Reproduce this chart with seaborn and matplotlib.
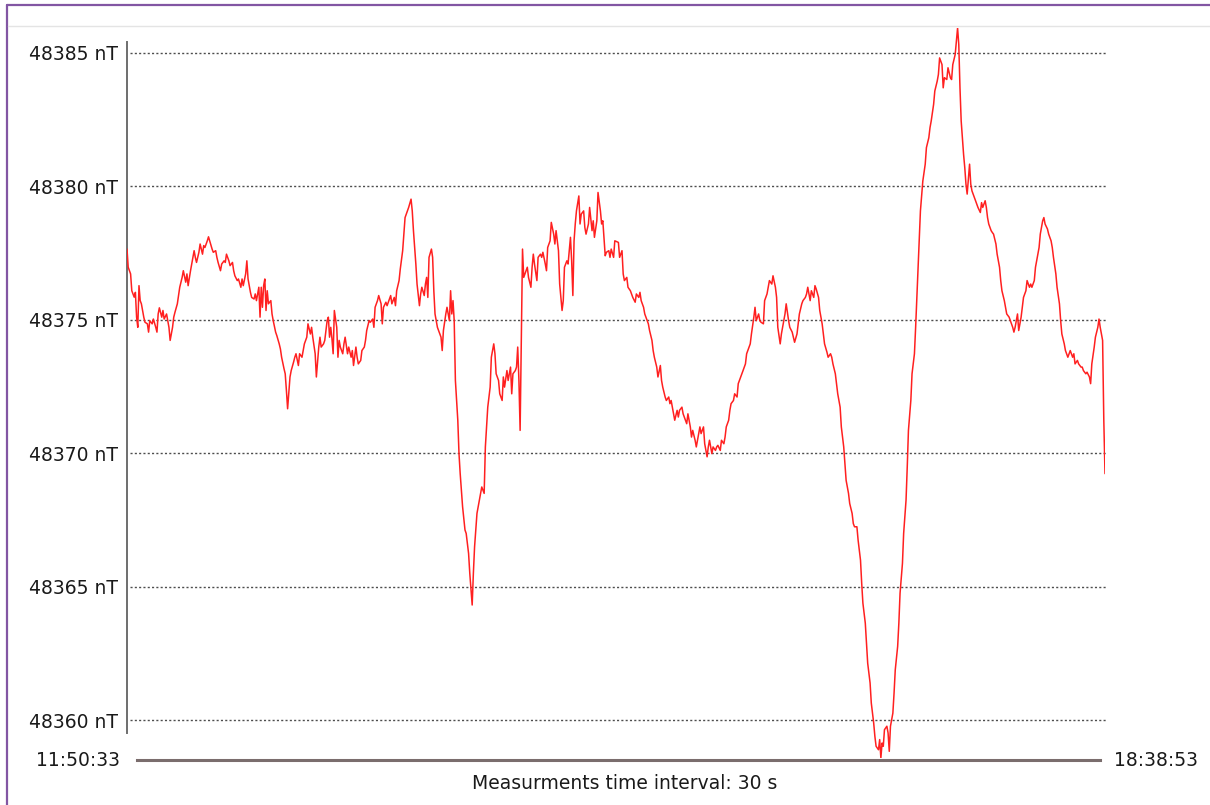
import matplotlib
matplotlib.use("Agg")
import matplotlib.pyplot as plt
from matplotlib.lines import Line2D
import seaborn as sns
import pandas as pd

# Magnetometer record, one sample every 30 s (sample number -> total field in nT)
sample = [
    0, 1, 3, 4, 6, 7, 8, 9, 10, 11, 12, 14, 15, 17, 18, 19, 21, 22, 24, 25,
    26, 27, 29, 30, 31, 33, 34, 35, 36, 38, 39, 40, 42, 43, 44, 46, 47, 49, 50, 51,
    53, 54, 56, 57, 58, 60, 61, 63, 64, 65, 67, 68, 69, 71, 72, 74, 75, 76, 78, 79,
    81, 82, 83, 85, 86, 88, 89, 90, 92, 93, 95, 96, 97, 99, 100, 101, 103, 104, 106, 107,
    108, 110, 111, 112, 113, 114, 115, 116, 117, 118, 120, 121, 122, 124, 125, 127, 128, 129, 131, 132,
    133, 134, 136, 137, 139, 140, 141, 143, 144, 146, 147, 148, 150, 151, 153, 154, 155, 157, 158, 160,
    161, 162, 164, 165, 167, 168, 169, 170, 171, 172, 173, 175, 176, 177, 178, 180, 181, 182, 184, 185,
    187, 188, 189, 191, 192, 193, 195, 196, 198, 199, 200, 202, 203, 205, 206, 207, 209, 210, 212, 213,
    214, 216, 217, 219, 220, 221, 223, 224, 225, 227, 228, 230, 231, 232, 234, 235, 237, 238, 239, 241,
    242, 244, 245, 246, 248, 249, 250, 251, 252, 254, 255, 256, 257, 259, 260, 262, 263, 264, 266, 267,
    269, 270, 271, 272, 273, 274, 276, 277, 278, 280, 282, 283, 285, 286, 288, 289, 290, 292, 294, 296,
    298, 299, 301, 303, 304, 306, 307, 308, 310, 311, 313, 314, 315, 317, 318, 320, 321, 322, 324, 325,
    326, 327, 328, 330, 331, 333, 334, 335, 337, 338, 339, 340, 342, 343, 345, 346, 347, 349, 350, 351,
    353, 354, 356, 357, 358, 360, 361, 363, 364, 365, 367, 368, 370, 371, 372, 373, 374, 375, 377, 378,
    379, 381, 382, 383, 385, 386, 388, 389, 390, 392, 393, 395, 396, 397, 399, 400, 402, 403, 404, 406,
    407, 410, 411, 413, 414, 415, 417, 418, 420, 421, 422, 424, 425, 427, 428, 429, 431, 432, 434, 435,
    436, 438, 439, 440, 442, 443, 445, 446, 447, 449, 450, 452, 453, 454, 456, 457, 459, 460, 461, 463,
    464, 466, 467, 468, 470, 471, 472, 474, 475, 477, 478, 479, 481, 482, 484, 485, 486, 488, 489, 491,
    492, 493, 495, 496, 498, 499, 500, 502, 503, 504, 506, 507, 509, 510, 511, 513, 514, 516, 517, 518,
    520, 521, 523, 524, 525, 527, 528, 529, 531, 532, 534, 535, 536, 538, 539, 541, 542, 543, 545, 546,
    548, 549, 550, 552, 553, 555, 556, 557, 559, 560, 561, 563, 564, 566, 567, 568, 570, 571, 573, 574,
    575, 577, 578, 580, 581, 582, 584, 585, 587, 588, 589, 591, 592, 593, 595, 596, 598, 599, 600, 602,
    603, 605, 606, 607, 609, 610, 612, 613, 614, 616, 617, 618, 620, 621, 623, 624, 625, 627, 628, 629,
    630, 631, 632, 634, 635, 636, 637, 639, 640, 641, 643, 644, 645, 647, 648, 650, 651, 652, 654, 655,
    657, 658, 662, 664, 666, 667, 669, 670, 671, 673, 674, 676, 677, 678, 680, 681, 682, 684, 685, 687,
    688, 689, 691, 692, 693, 694, 695, 696, 697, 698, 699, 700, 701, 703, 704, 705, 706, 708, 709, 710,
    712, 713, 714, 716, 717, 718, 719, 721, 722, 723, 725, 726, 728, 729, 730, 732, 733, 734, 736, 737,
    739, 740, 741, 743, 744, 746, 747, 748, 750, 751, 753, 754, 755, 757, 758, 760, 761, 762, 764, 765,
    766, 768, 769, 771, 772, 773, 775, 776, 778, 779, 780, 782, 783, 785, 786, 787, 789, 790, 791, 793,
    794, 796, 797, 798, 800, 801, 803, 804, 805, 807, 808, 810, 811, 812, 813, 814, 815, 816,
]

field_nT = [
    48377.64, 48376.96, 48376.71, 48376.08, 48375.84, 48376.02, 48375.09, 48374.71, 48376.27, 48375.71,
    48375.59, 48375.09, 48374.90, 48374.84, 48374.53, 48374.96, 48374.84, 48375.02, 48374.71, 48374.53,
    48375.21, 48375.44, 48375.09, 48375.34, 48375.02, 48375.21, 48374.96, 48374.71, 48374.22, 48374.71,
    48375.09, 48375.27, 48375.59, 48375.90, 48376.21, 48376.58, 48376.83, 48376.40, 48376.71, 48376.27,
    48376.83, 48377.08, 48377.58, 48377.33, 48377.14, 48377.52, 48377.83, 48377.45, 48377.77, 48377.70,
    48377.95, 48378.10, 48377.95, 48377.64, 48377.52, 48377.58, 48377.33, 48377.14, 48376.83, 48377.08,
    48377.20, 48377.14, 48377.45, 48377.20, 48377.02, 48377.14, 48376.83, 48376.64, 48376.46, 48376.52,
    48376.21, 48376.52, 48376.27, 48376.71, 48377.20, 48376.52, 48376.02, 48375.83, 48375.77, 48375.96,
    48375.71, 48376.21, 48375.09, 48376.21, 48375.46, 48376.27, 48376.52, 48375.34, 48376.08, 48375.59,
    48375.71, 48375.21, 48374.96, 48374.53, 48374.40, 48374.09, 48373.90, 48373.59, 48373.16, 48372.97,
    48372.35, 48371.66, 48372.85, 48373.09, 48373.41, 48373.59, 48373.72, 48373.28, 48373.72, 48373.59,
    48373.84, 48374.09, 48374.34, 48374.84, 48374.46, 48374.71, 48374.34, 48373.72, 48372.85, 48373.97,
    48374.34, 48373.97, 48374.09, 48374.22, 48374.96, 48375.09, 48374.34, 48374.71, 48374.28, 48373.72,
    48375.34, 48374.71, 48373.59, 48374.22, 48373.97, 48373.72, 48374.09, 48374.34, 48373.72, 48373.97,
    48373.59, 48373.84, 48373.28, 48373.97, 48373.59, 48373.34, 48373.47, 48373.84, 48373.97, 48374.22,
    48374.59, 48374.96, 48374.90, 48375.02, 48374.71, 48375.46, 48375.71, 48375.90, 48375.59, 48374.84,
    48375.46, 48375.65, 48375.52, 48375.77, 48375.90, 48375.59, 48375.83, 48375.52, 48376.08, 48376.46,
    48376.89, 48377.58, 48378.20, 48378.82, 48379.07, 48379.20, 48379.51, 48379.07, 48378.33, 48377.08,
    48376.33, 48375.52, 48375.96, 48376.21, 48375.90, 48376.33, 48376.58, 48375.83, 48377.33, 48377.64,
    48377.33, 48376.08, 48375.21, 48374.71, 48374.59, 48374.34, 48373.84, 48374.59, 48375.21, 48375.46,
    48374.96, 48376.08, 48375.21, 48375.71, 48374.96, 48372.72, 48371.23, 48369.98, 48369.23, 48367.99,
    48367.12, 48366.99, 48366.24, 48365.50, 48364.31, 48365.50, 48366.49, 48367.74, 48368.24, 48368.73,
    48368.49, 48370.23, 48371.72, 48372.47, 48373.59, 48374.09, 48373.72, 48372.97, 48372.72, 48372.22,
    48371.97, 48372.85, 48372.47, 48373.09, 48372.72, 48373.22, 48372.22, 48372.97, 48373.09, 48373.22,
    48373.97, 48372.72, 48370.85, 48377.64, 48376.58, 48376.83, 48376.96, 48376.58, 48376.21, 48376.96,
    48377.45, 48377.08, 48376.46, 48377.33, 48377.45, 48377.33, 48377.52, 48377.08, 48376.83, 48377.70,
    48377.95, 48378.64, 48378.20, 48377.83, 48378.33, 48377.58, 48376.33, 48375.34, 48375.71, 48376.96,
    48377.20, 48377.08, 48378.08, 48377.20, 48375.90, 48377.95, 48378.58, 48379.07, 48379.63, 48378.58,
    48378.95, 48379.07, 48378.45, 48378.20, 48378.58, 48379.20, 48378.33, 48378.70, 48378.08, 48378.70,
    48379.76, 48379.07, 48378.58, 48378.70, 48377.39, 48377.52, 48377.58, 48377.33, 48377.64, 48377.33,
    48377.95, 48377.89, 48377.33, 48377.58, 48376.71, 48376.46, 48376.58, 48376.21, 48376.08, 48375.96,
    48375.83, 48375.65, 48375.96, 48375.83, 48376.02, 48375.71, 48375.46, 48375.21, 48374.96, 48374.84,
    48374.59, 48374.22, 48373.84, 48373.59, 48373.22, 48372.85, 48373.28, 48372.72, 48372.47, 48372.10,
    48371.97, 48372.10, 48371.85, 48371.97, 48371.47, 48371.23, 48371.60, 48371.35, 48371.60, 48371.72,
    48371.47, 48371.23, 48371.10, 48371.47, 48370.98, 48370.60, 48370.85, 48370.48, 48370.23, 48370.73,
    48370.98, 48370.73, 48370.98, 48370.35, 48369.86, 48370.23, 48370.48, 48369.98, 48370.23, 48370.10,
    48370.23, 48370.29, 48370.10, 48370.48, 48370.35, 48370.60, 48370.98, 48371.23, 48371.60, 48371.85,
    48371.97, 48372.22, 48372.10, 48372.60, 48372.72, 48372.97, 48373.09, 48373.34, 48373.72, 48373.84,
    48374.09, 48374.46, 48375.09, 48375.46, 48374.96, 48375.21, 48374.96, 48374.90, 48374.84, 48375.71,
    48375.96, 48376.21, 48376.46, 48376.33, 48376.64, 48376.21, 48375.83, 48374.71, 48374.09, 48374.46,
    48374.96, 48375.21, 48375.59, 48374.96, 48374.71, 48374.53, 48374.34, 48374.15, 48374.46, 48374.84,
    48375.21, 48375.59, 48375.71, 48375.83, 48375.96, 48376.21, 48375.71, 48376.08, 48375.83, 48376.27,
    48376.15, 48375.83, 48375.34, 48374.84, 48374.46, 48374.09, 48373.78, 48373.59, 48373.72, 48373.59,
    48373.34, 48372.97, 48372.60, 48372.22, 48371.72, 48370.98, 48370.23, 48369.61, 48368.98, 48368.49,
    48368.11, 48367.74, 48367.36, 48367.24, 48367.24, 48366.74, 48365.99, 48365.12, 48364.38, 48363.63,
    48362.88, 48362.13, 48361.39, 48360.64, 48359.89, 48359.39, 48359.02, 48358.89, 48359.27, 48358.58,
    48359.14, 48359.02, 48359.64, 48359.77, 48359.52, 48358.83, 48359.77, 48360.26, 48361.01, 48361.88,
    48362.76, 48363.63, 48364.75, 48365.87, 48366.99, 48368.24, 48369.48, 48370.85, 48371.97, 48372.97,
    48373.72, 48374.71, 48379.07, 48380.19, 48380.82, 48381.44, 48381.81, 48382.19, 48382.44, 48383.06,
    48383.56, 48383.93, 48384.18, 48384.80, 48384.55, 48383.68, 48384.06, 48383.99, 48384.43, 48384.06,
    48383.99, 48384.55, 48384.93, 48385.43, 48385.92, 48385.30, 48383.68, 48382.44, 48381.81, 48381.19,
    48380.69, 48380.07, 48379.70, 48380.82, 48380.07, 48379.82, 48379.70, 48379.45, 48379.32, 48379.20,
    48379.01, 48379.38, 48379.20, 48379.45, 48379.20, 48378.82, 48378.58, 48378.33, 48378.26, 48378.20,
    48377.83, 48377.45, 48376.96, 48376.46, 48376.08, 48375.71, 48375.46, 48375.21, 48375.09, 48374.96,
    48374.71, 48374.53, 48374.71, 48375.21, 48374.59, 48375.09, 48375.46, 48375.83, 48376.08, 48376.46,
    48376.21, 48376.33, 48376.21, 48376.46, 48376.96, 48377.45, 48377.70, 48378.20, 48378.70, 48378.82,
    48378.58, 48378.39, 48378.20, 48377.95, 48377.70, 48377.33, 48376.71, 48376.21, 48375.59, 48374.96,
    48374.46, 48374.09, 48373.84, 48373.59, 48373.72, 48373.84, 48373.59, 48373.72, 48373.34, 48373.47,
    48373.34, 48373.22, 48373.22, 48373.09, 48372.97, 48373.03, 48372.85, 48372.60, 48373.34, 48373.97,
    48374.34, 48374.71, 48375.02, 48374.71, 48374.46, 48374.22, 48371.23, 48369.23,
]

grid_levels = [48360, 48365, 48370, 48375, 48380, 48385]
start_label = "11:50:33"
end_label = "18:38:53"
caption = "Measurments time interval: 30 s"

df = pd.DataFrame({"sample": sample, "field": field_nT})

sns.set_style("white")
plt.rcParams["font.family"] = ["DejaVu Sans"]

TEXT_SIZE = 13.5
TEXT_COLOR = "#1a1a1a"

W, H = 1210, 805
fig = plt.figure(figsize=(W / 100, H / 100), dpi=100)
fig.patch.set_facecolor("white")

ax = fig.add_axes([127 / W, 1 - 758 / H, (1105 - 127) / W, (758 - 28) / H])
ax.set_facecolor("none")

sns.lineplot(data=df, x="sample", y="field", ax=ax, color="#ff2020",
             linewidth=1.1, estimator=None, sort=False, zorder=3)

ax.set_xlim(0, max(sample))
ax.set_ylim(min(field_nT), max(field_nT))
ax.set_xlabel("")
ax.set_ylabel("")

# dotted reference levels with "nT" labels
ax.set_yticks(grid_levels)
ax.set_yticklabels([f"{v} nT" for v in grid_levels])
ax.set_xticks([])
ax.tick_params(axis="y", length=0, pad=6.5, labelsize=TEXT_SIZE, labelcolor=TEXT_COLOR)
for v in grid_levels:
    ax.axhline(v, xmin=0.003, xmax=1.002, color="#4d4d4d", linewidth=1.0,
               linestyle=(0, (1.5, 1.6)), zorder=1, clip_on=False)

for side in ["top", "right"]:
    ax.spines[side].set_visible(False)
ax.spines["left"].set_color("#6e6e6e")
ax.spines["left"].set_linewidth(1.4)
ax.spines["left"].set_bounds(48359.5, 48385.4)
ax.spines["bottom"].set_color("#7a6d6d")
ax.spines["bottom"].set_linewidth(2.2)
ax.spines["bottom"].set_position(("outward", 1.5))
ax.spines["bottom"].set_bounds(8, 812)

# time range and sampling caption
fig.text(120 / W, 1 - 760 / H, start_label, ha="right", va="center",
         fontsize=TEXT_SIZE, color=TEXT_COLOR)
fig.text(1114 / W, 1 - 760 / H, end_label, ha="left", va="center",
         fontsize=TEXT_SIZE, color=TEXT_COLOR)
fig.text(625 / W, 1 - 783 / H, caption, ha="center", va="center",
         fontsize=TEXT_SIZE, color=TEXT_COLOR)

# page frame
fig.add_artist(Line2D([7 / W, 7 / W], [0, 1 - 5 / H], transform=fig.transFigure,
                      color="#8256a3", linewidth=1.6))
fig.add_artist(Line2D([7 / W, 1], [1 - 5 / H, 1 - 5 / H], transform=fig.transFigure,
                      color="#8256a3", linewidth=1.6))
fig.add_artist(Line2D([8 / W, 1], [1 - 26 / H, 1 - 26 / H], transform=fig.transFigure,
                      color="#e4e4e4", linewidth=1.0))

fig.savefig("out.png", dpi=100, facecolor="white")
